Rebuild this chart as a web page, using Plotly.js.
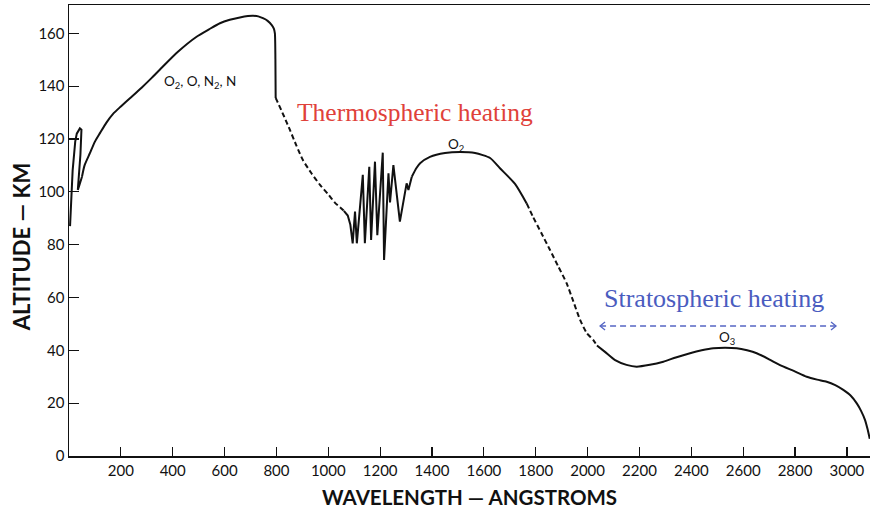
<!DOCTYPE html>
<html>
<head>
<meta charset="utf-8">
<script src="https://cdn.plot.ly/plotly-3.0.1.min.js"></script>
<style>
  html, body { margin: 0; padding: 0; background: #fff; }
  #chart { width: 870px; height: 516px; }
</style>
</head>
<body>
<div id="chart"></div>
<script>
// Altitude (km) at which solar radiation is absorbed, by wavelength (Å).
// The curve is split into solid (measured) and dashed (uncertain) pieces.

// Solid: spikes near 0 Å
const wlSpike = [4, 14, 24, 30, 42, 48, 44, 38, 34, 40, 50];
const altSpike = [87, 108, 119, 122, 124, 123.5, 114, 106, 100.7, 102.5, 105.7];

// Solid: the O2/O/N2/N absorption maximum and the drop at ~800 Å
const wlSolidA = [50, 60, 81, 100, 120, 145, 170, 200, 235, 280, 320, 362, 420, 492, 540, 582, 620, 659, 690, 710, 730, 748, 766, 782, 790, 794, 796, 797];
const altSolidA = [105.7, 110, 114.7, 119, 122.3, 126.3, 129.5, 132.3, 135.4, 139.4, 143.2, 147.4, 153, 158.7, 161.5, 163.8, 165.1, 166, 166.5, 166.6, 166.4, 165.7, 164.7, 163.1, 161.8, 160, 150, 135.5];

// Dashed: 800 Å to the N2 band region
const wlDashB = [797, 801, 830, 852, 877, 902, 935, 968, 1000, 1026, 1045, 1060];
const altDashB = [135.5, 134.7, 128.4, 123.4, 117.5, 112, 107, 102.6, 99, 95.8, 94.2, 92.8];

// Solid: band structure 1060-1320 Å
const wlBands = [1060, 1075, 1085, 1094, 1103, 1110, 1133, 1141, 1158, 1165, 1180, 1189, 1210, 1215, 1232, 1238, 1251, 1276, 1302, 1309, 1322];
const altBands = [92.8, 91, 87.5, 80.5, 92.5, 80.5, 106.4, 80.5, 109.5, 81.8, 111.4, 83.6, 114.8, 74.2, 107, 96, 110.1, 88.7, 103.2, 100.7, 105.7];

// Solid: the O2 continuum hump
const wlSolidC = [1322, 1340, 1354, 1392, 1450, 1508, 1566, 1624, 1662, 1720, 1765];
const altSolidC = [105.7, 109, 110.8, 113.2, 114.7, 115.1, 114.7, 112.8, 108.9, 103, 95.6];

// Dashed: descent from the O2 continuum
const wlDashD = [1765, 1789, 1822, 1855, 1887, 1919, 1945, 1971, 1997, 2022, 2036];
const altDashD = [95.6, 90.6, 84.3, 78, 71.7, 65.4, 58.5, 51.5, 46.5, 43.9, 41.8];

// Solid: O3 (Hartley band) absorption
const wlSolidE = [2036, 2067, 2106, 2150, 2189, 2240, 2292, 2340, 2395, 2440, 2485, 2530, 2575, 2615, 2652, 2700, 2742, 2795, 2845, 2885, 2922, 2955, 2986, 3015, 3038, 3055, 3070, 3080, 3088];
const altSolidE = [41.8, 39.4, 36.3, 34.5, 33.8, 34.5, 35.7, 37.3, 38.9, 40, 40.8, 41, 40.8, 40, 38.9, 36.6, 34.4, 32.2, 30, 28.9, 28.1, 26.8, 25, 22.8, 19.9, 17, 13.6, 10, 6.5];

const xTicks = [200, 400, 600, 800, 1000, 1200, 1400, 1600, 1800, 2000, 2200, 2400, 2600, 2800, 3000];
const yTicks = [0, 20, 40, 60, 80, 100, 120, 140, 160];

// Wavelength span of stratospheric heating, and the altitude of its arrow
const stratoSpan = [2048, 2958];
const stratoArrowAlt = 49.2;

const ink = '#111111';
const solid = { color: ink, width: 2 };
const dashed = { color: ink, width: 2, dash: '5px,3px' };

function piece(x, y, line, shape) {
  return { x: x, y: y, type: 'scatter', mode: 'lines',
           line: Object.assign({ shape: shape || 'linear', smoothing: 0.6 }, line),
           hoverinfo: 'skip', showlegend: false };
}

const traces = [
  piece(wlSpike, altSpike, solid),
  piece(wlSolidA, altSolidA, solid, 'spline'),
  piece(wlDashB, altDashB, dashed, 'spline'),
  piece(wlBands, altBands, solid),
  piece(wlSolidC, altSolidC, solid, 'spline'),
  piece(wlDashD, altDashD, dashed, 'spline'),
  piece(wlSolidE, altSolidE, solid, 'spline')
];

const tickFont = { family: 'Lato, "DejaVu Sans", sans-serif', size: 15, color: ink };
const xTitleFont = { family: 'Lato, "DejaVu Sans", sans-serif', size: 20.5, color: ink, weight: 700 };
const yTitleFont = { family: 'Lato, "DejaVu Sans", sans-serif', size: 22, color: ink, weight: 700 };
const serifRed = { family: '"Liberation Serif", "DejaVu Serif", serif', size: 25.5, color: '#e0413a' };
const serifBlue = { family: '"Liberation Serif", "DejaVu Serif", serif', size: 26, color: '#4a5cbf' };
const smallLbl = { family: 'Lato, "DejaVu Sans", sans-serif', size: 13.5, color: ink };

const arrowStyle = { color: '#5566c4', width: 1.3 };

const layout = {
  width: 870, height: 516,
  margin: { l: 69, r: 0, t: 5, b: 60 },
  paper_bgcolor: '#ffffff', plot_bgcolor: '#ffffff',
  xaxis: {
    range: [0, 3089], showgrid: false, zeroline: false,
    showline: true, linecolor: ink, linewidth: 1.5, mirror: true,
    ticks: 'inside', ticklen: 9, tickwidth: 1.2, tickcolor: ink,
    tickvals: xTicks, ticktext: xTicks.map(String), tickfont: tickFont
  },
  yaxis: {
    range: [0, 170.7], showgrid: false, zeroline: false,
    showline: true, linecolor: ink, linewidth: 1.5,
    ticks: 'inside', ticklen: 10, tickwidth: 1.2, tickcolor: ink,
    tickvals: yTicks, ticktext: yTicks.map(String), tickfont: tickFont
  },
  annotations: [
    { xref: 'paper', yref: 'paper', x: 0.5, y: -0.091, text: 'WAVELENGTH — ANGSTROMS',
      showarrow: false, font: xTitleFont, xanchor: 'center', yanchor: 'middle' },
    { xref: 'paper', yref: 'paper', x: -0.06, y: 0.465, text: 'ALTITUDE — KM', textangle: -90,
      showarrow: false, font: yTitleFont, xanchor: 'center', yanchor: 'middle' },
    { x: 1334, y: 130.2, text: 'Thermospheric heating', showarrow: false, font: serifRed },
    { x: 2487, y: 59.5, text: 'Stratospheric heating', showarrow: false, font: serifBlue },
    { x: 505, y: 141.6, text: 'O<sub>2</sub>, O, N<sub>2</sub>, N', showarrow: false, font: smallLbl },
    { x: 1492, y: 117.7, text: 'O<sub>2</sub>', showarrow: false, font: smallLbl },
    { x: 2538, y: 44.7, text: 'O<sub>3</sub>', showarrow: false, font: smallLbl }
  ],
  shapes: [
    { type: 'line', xref: 'x', yref: 'y', x0: stratoSpan[0], x1: stratoSpan[1],
      y0: stratoArrowAlt, y1: stratoArrowAlt, line: Object.assign({ dash: '6px,4px' }, arrowStyle) },
    { type: 'path', xref: 'x', yref: 'y', xsizemode: 'pixel', ysizemode: 'pixel',
      xanchor: stratoSpan[0], yanchor: stratoArrowAlt, path: 'M 5,4 L 0,0 L 5,-4', line: arrowStyle },
    { type: 'path', xref: 'x', yref: 'y', xsizemode: 'pixel', ysizemode: 'pixel',
      xanchor: stratoSpan[1], yanchor: stratoArrowAlt, path: 'M -5,4 L 0,0 L -5,-4', line: arrowStyle }
  ]
};

Plotly.newPlot('chart', traces, layout, { displayModeBar: false, staticPlot: true });
</script>
</body>
</html>
